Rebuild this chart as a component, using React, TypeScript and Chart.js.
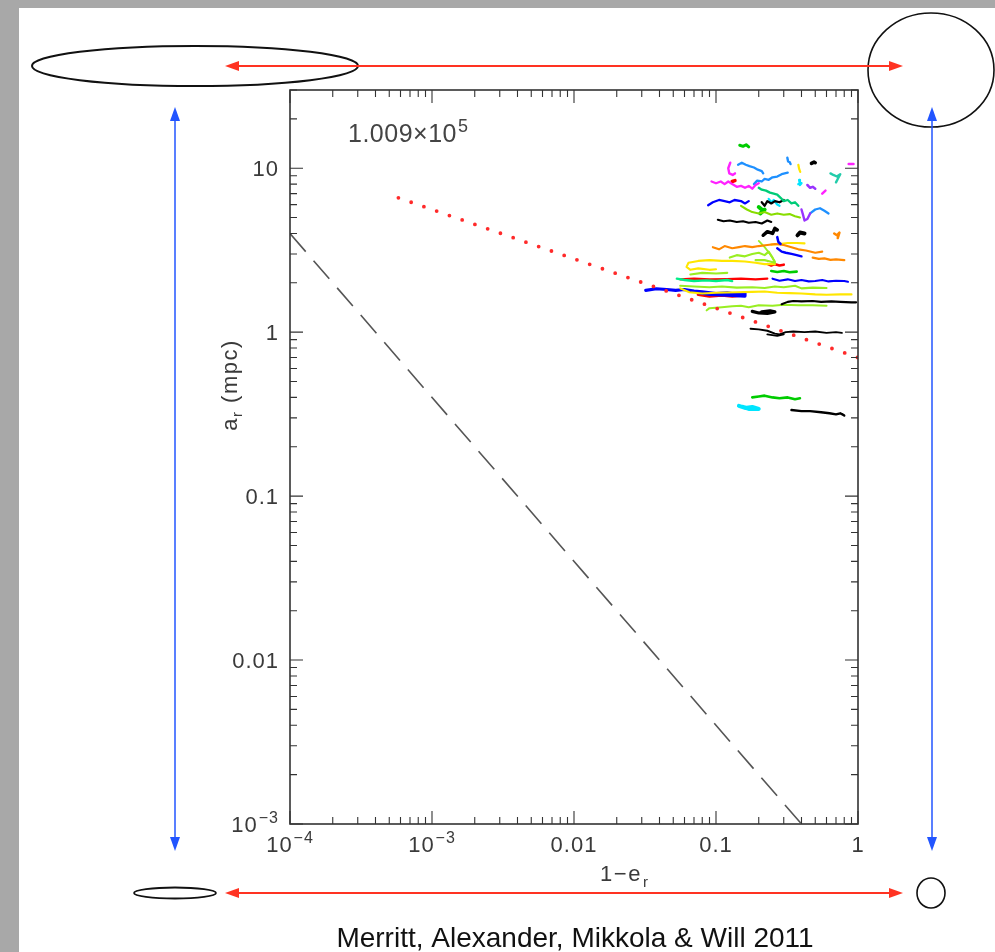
import { useEffect, useRef } from "react";
import { Chart, registerables } from "chart.js";

Chart.register(...registerables);

type P = [number, number];

// ---------- axes ----------
const X_MIN = 1e-4;
const X_MAX = 1;
const Y_MIN = 1e-3;
const Y_MAX = 30;
const xMajorTicks = [1e-4, 1e-3, 0.01, 0.1, 1];
const xTickLabels: [string, string][] = [["10", "−4"], ["10", "−3"], ["0.01", ""], ["0.1", ""], ["1", ""]];
const yMajorTicks = [1e-3, 0.01, 0.1, 1, 10];
const yTickLabels: [string, string][] = [["10", "−3"], ["0.01", ""], ["0.1", ""], ["1", ""], ["10", ""]];
const xTitle: [string, string] = ["1−e", "r"];
const yTitle: [string, string, string] = ["a", "r", " (mpc)"];
const timeLabel: [string, string] = ["1.009×10", "5"];
const caption = "Merritt, Alexander, Mikkola & Will 2011";

// ---------- reference lines ----------
const dashedLine: P[] = [[1e-4, 4.0], [0.4, 1e-3]];
const dottedLine: P[] = [[5.8e-4, 6.6], [1, 0.7]];

// ---------- orbit tracks (1-e, a) ----------
const greenTop: P[] = [[0.147, 13.8], [0.155, 13.6], [0.163, 13.9], [0.17, 13.5]];
const magentaHook: P[] = [[0.126, 10.8], [0.122, 10.0], [0.124, 9.3], [0.131, 9.1], [0.136, 9.3]];
const azureHigh: P[] = [[0.143, 10.5], [0.152, 10.8], [0.162, 10.5], [0.172, 10.3], [0.185, 10.1], [0.197, 9.8], [0.21, 9.6], [0.215, 9.3]];
const azureSmall: P[] = [[0.318, 11.6], [0.322, 11.0], [0.33, 10.9], [0.335, 10.6]];
const yellowTick: P[] = [[0.38, 10.5], [0.385, 9.9], [0.392, 9.5]];
const blackDot: P[] = [[0.47, 10.7], [0.49, 10.9], [0.5, 10.8]];
const magentaEdge: P[] = [[0.86, 10.6], [0.93, 10.6]];
const tealEdge: P[] = [[0.64, 9.3], [0.67, 9.1], [0.71, 8.9], [0.75, 9.2], [0.72, 8.6], [0.7, 8.2]];
const magentaLong: P[] = [[0.093, 8.3], [0.1, 8.1], [0.108, 8.3], [0.115, 8.0], [0.122, 8.3], [0.13, 8.0], [0.14, 7.7], [0.15, 7.8], [0.16, 7.6], [0.17, 7.8], [0.18, 7.5], [0.19, 7.9], [0.2, 8.1]];
const redDot: P[] = [[0.13, 8.3], [0.136, 8.4]];
const azureMid: P[] = [[0.185, 8.0], [0.195, 8.4], [0.21, 8.3], [0.22, 8.6], [0.235, 8.5], [0.25, 8.8], [0.27, 8.9], [0.29, 9.2], [0.32, 9.4]];
const cyanSmall: P[] = [[0.385, 8.5], [0.39, 7.9], [0.4, 8.1], [0.38, 8.0]];
const purpleSmall: P[] = [[0.44, 7.9], [0.46, 7.6], [0.48, 7.7], [0.5, 7.5]];
const magentaSmall: P[] = [[0.56, 7.0], [0.59, 7.3]];
const seaGreen: P[] = [[0.2, 7.6], [0.21, 7.4], [0.225, 7.3], [0.24, 7.1], [0.255, 7.0], [0.27, 6.9], [0.285, 6.6], [0.3, 6.3], [0.32, 6.4], [0.34, 6.1], [0.36, 6.2], [0.38, 5.9]];
const blueUpper: P[] = [[0.088, 5.95], [0.095, 6.2], [0.105, 6.4], [0.115, 6.3], [0.125, 6.2], [0.135, 6.4], [0.15, 6.3], [0.16, 6.1], [0.17, 6.3]];
const blackUpper: P[] = [[0.21, 6.2], [0.22, 5.9], [0.23, 6.3], [0.245, 6.1], [0.26, 6.3], [0.28, 6.2], [0.3, 6.4]];
const cyanUpper: P[] = [[0.235, 6.5], [0.245, 6.2], [0.255, 6.4], [0.27, 6.0], [0.28, 5.9]];
const limeUpper: P[] = [[0.15, 5.9], [0.165, 5.6], [0.18, 5.4], [0.2, 5.3], [0.22, 5.4], [0.245, 5.2], [0.27, 5.3], [0.3, 5.2], [0.33, 5.25], [0.36, 5.1], [0.39, 5.0]];
const greenBlob: P[] = [[0.2, 5.8], [0.215, 5.5], [0.205, 5.3], [0.22, 5.6]];
const purpleCurl: P[] = [[0.4, 5.6], [0.41, 5.2], [0.42, 4.8], [0.44, 4.9], [0.46, 5.3]];
const azureCurl: P[] = [[0.46, 5.3], [0.5, 5.6], [0.54, 5.7], [0.58, 5.5], [0.62, 5.3]];
const blackMid: P[] = [[0.103, 4.85], [0.113, 4.75], [0.125, 4.8], [0.14, 4.7], [0.155, 4.75], [0.17, 4.65], [0.19, 4.7], [0.21, 4.6], [0.23, 4.8], [0.245, 4.7]];
const blackBlobA: P[] = [[0.215, 3.9], [0.23, 4.1], [0.25, 4.0], [0.26, 4.3], [0.27, 4.2]];
const blackBlobB: P[] = [[0.375, 3.9], [0.39, 4.05], [0.42, 4.0]];
const orangeSmall: P[] = [[0.68, 4.0], [0.71, 3.9], [0.74, 4.05], [0.72, 3.75]];
const blueSmall: P[] = [[0.27, 3.8], [0.275, 3.55], [0.285, 3.45]];
const orangeLong: P[] = [[0.095, 3.3], [0.105, 3.2], [0.115, 3.35], [0.13, 3.25], [0.145, 3.3], [0.16, 3.35], [0.18, 3.3], [0.2, 3.35], [0.23, 3.4], [0.26, 3.45], [0.3, 3.4], [0.34, 3.3], [0.38, 3.2], [0.43, 3.15], [0.5, 3.05], [0.56, 3.1]];
const yellowShort: P[] = [[0.245, 3.42], [0.28, 3.45], [0.32, 3.5], [0.37, 3.5], [0.42, 3.48]];
const blueMid: P[] = [[0.27, 3.25], [0.29, 3.1], [0.31, 3.05], [0.34, 3.0], [0.37, 2.95], [0.4, 2.9]];
const limeLoop: P[] = [[0.125, 2.85], [0.14, 2.95], [0.16, 2.9], [0.18, 3.0], [0.2, 3.05], [0.22, 2.95], [0.235, 3.1], [0.25, 2.85], [0.26, 2.65], [0.24, 2.7], [0.22, 2.75], [0.19, 2.75]];
const limeSlant: P[] = [[0.2, 3.6], [0.22, 3.3], [0.24, 3.0], [0.26, 2.7]];
const orangeRight: P[] = [[0.48, 2.85], [0.53, 2.8], [0.58, 2.82], [0.64, 2.76], [0.7, 2.78], [0.8, 2.75]];
const yellowLoop: P[] = [[0.26, 2.6], [0.22, 2.6], [0.19, 2.65], [0.16, 2.7], [0.13, 2.72], [0.11, 2.72], [0.09, 2.75], [0.075, 2.72], [0.064, 2.65], [0.062, 2.5], [0.066, 2.4], [0.075, 2.45], [0.09, 2.4], [0.1, 2.42]];
const redMid: P[] = [[0.232, 2.6], [0.245, 2.55], [0.26, 2.6], [0.28, 2.55], [0.3, 2.58]];
const greenMid: P[] = [[0.245, 2.36], [0.27, 2.33], [0.3, 2.36], [0.33, 2.32], [0.37, 2.34]];
const limeBit: P[] = [[0.066, 2.25], [0.08, 2.3], [0.1, 2.28], [0.12, 2.3]];
const redLong: P[] = [[0.056, 2.1], [0.07, 2.12], [0.09, 2.1], [0.12, 2.11], [0.15, 2.12], [0.19, 2.1], [0.23, 2.12]];
const springGreen: P[] = [[0.053, 2.12], [0.06, 2.08], [0.07, 2.05], [0.085, 2.07], [0.1, 2.05], [0.12, 2.08], [0.13, 2.05]];
const blueLong: P[] = [[0.25, 2.12], [0.28, 2.06], [0.32, 2.1], [0.36, 2.05], [0.4, 2.08], [0.45, 2.04], [0.5, 2.05], [0.56, 2.08], [0.62, 2.04], [0.7, 2.06], [0.8, 2.05], [0.85, 2.03]];
const yellowLong: P[] = [[0.056, 1.85], [0.065, 1.75], [0.08, 1.72], [0.1, 1.74], [0.14, 1.75], [0.18, 1.76], [0.22, 1.77], [0.27, 1.74], [0.33, 1.73], [0.4, 1.72], [0.5, 1.7], [0.6, 1.69], [0.75, 1.7], [0.9, 1.7]];
const limeLong: P[] = [[0.056, 1.92], [0.07, 1.9], [0.09, 1.88], [0.11, 1.9], [0.14, 1.87], [0.18, 1.88], [0.22, 1.86], [0.26, 1.9], [0.3, 1.88], [0.36, 1.92], [0.4, 1.85], [0.48, 1.87], [0.6, 1.86]];
const blueDense: P[] = [[0.032, 1.8], [0.038, 1.84], [0.045, 1.82], [0.052, 1.8], [0.06, 1.82], [0.07, 1.78], [0.08, 1.76], [0.1, 1.72], [0.12, 1.74], [0.14, 1.7], [0.16, 1.73], [0.16, 1.66], [0.12, 1.68], [0.09, 1.7], [0.075, 1.74]];
const redDense: P[] = [[0.075, 1.7], [0.09, 1.66], [0.11, 1.68], [0.13, 1.66], [0.155, 1.68]];
const blackLow: P[] = [[0.29, 1.48], [0.32, 1.53], [0.35, 1.55], [0.4, 1.54], [0.48, 1.55], [0.55, 1.53], [0.65, 1.54], [0.75, 1.53], [0.9, 1.52], [0.97, 1.52]];
const limeLow: P[] = [[0.086, 1.36], [0.09, 1.4], [0.11, 1.42], [0.13, 1.44], [0.15, 1.45], [0.17, 1.42], [0.2, 1.46], [0.25, 1.45], [0.3, 1.47], [0.38, 1.46], [0.48, 1.46], [0.6, 1.45]];
const blackBlobC: P[] = [[0.18, 1.34], [0.2, 1.31], [0.23, 1.3], [0.26, 1.33], [0.24, 1.35], [0.21, 1.33]];
const blackUnity: P[] = [[0.175, 1.05], [0.2, 1.04], [0.23, 1.02], [0.26, 0.98], [0.28, 0.97], [0.31, 1.0], [0.35, 1.01], [0.42, 1.0], [0.5, 1.01], [0.6, 0.99], [0.7, 1.0], [0.77, 0.99]];
const blackUnityB: P[] = [[0.23, 0.97], [0.27, 0.95], [0.3, 0.97]];
const greenInner: P[] = [[0.18, 0.4], [0.2, 0.405], [0.22, 0.41], [0.25, 0.4], [0.28, 0.395], [0.32, 0.4], [0.36, 0.39], [0.39, 0.395]];
const cyanInner: P[] = [[0.145, 0.355], [0.16, 0.345], [0.18, 0.35], [0.2, 0.34], [0.17, 0.34], [0.155, 0.35]];
const blackInner: P[] = [[0.34, 0.335], [0.4, 0.33], [0.46, 0.33], [0.55, 0.325], [0.63, 0.32], [0.7, 0.315], [0.75, 0.32], [0.8, 0.31], [0.78, 0.315]];

// style per track: [data, colour, line width]
const tracks: [P[], string, number][] = [
  [greenTop, "#00cc00", 3],
  [magentaHook, "#ff22ff", 2.4],
  [azureHigh, "#1e90ff", 2.3],
  [azureSmall, "#1e90ff", 2.4],
  [yellowTick, "#ffe600", 2.2],
  [blackDot, "#000000", 3.5],
  [magentaEdge, "#ff22ff", 2.5],
  [tealEdge, "#22ccaa", 2.4],
  [magentaLong, "#ff22ff", 2.3],
  [redDot, "#ff0000", 3.5],
  [azureMid, "#1e90ff", 2.3],
  [cyanSmall, "#00e5ff", 2.3],
  [purpleSmall, "#9933ff", 2.5],
  [magentaSmall, "#ff22ff", 2.5],
  [seaGreen, "#00cc77", 2.3],
  [blueUpper, "#0000ff", 2.3],
  [blackUpper, "#000000", 2.3],
  [cyanUpper, "#00e5ff", 2.3],
  [limeUpper, "#88dd00", 2.1],
  [greenBlob, "#00cc00", 4],
  [purpleCurl, "#9933ff", 2.4],
  [azureCurl, "#1e90ff", 2.3],
  [blackMid, "#000000", 2.1],
  [blackBlobA, "#000000", 3.5],
  [blackBlobB, "#000000", 4],
  [orangeSmall, "#ff8800", 2.5],
  [blueSmall, "#0000ff", 2.5],
  [orangeLong, "#ff8800", 2.1],
  [yellowShort, "#ffe600", 2.1],
  [blueMid, "#0000ff", 2.4],
  [limeLoop, "#99ee22", 2.1],
  [limeSlant, "#99ee22", 1.8],
  [orangeRight, "#ff8800", 2.3],
  [yellowLoop, "#ffe600", 2.1],
  [redMid, "#ff0000", 2.6],
  [greenMid, "#00cc00", 2.6],
  [limeBit, "#99ee22", 2.1],
  [springGreen, "#00ee88", 2.4],
  [redLong, "#ff0000", 2.1],
  [blueLong, "#0000ff", 2.1],
  [limeLong, "#99ee22", 2.1],
  [yellowLong, "#ffe600", 2.1],
  [blueDense, "#0000ff", 3.2],
  [redDense, "#ff0000", 3.2],
  [blackLow, "#000000", 2.1],
  [limeLow, "#99ee22", 2.1],
  [blackBlobC, "#000000", 3.2],
  [blackUnity, "#000000", 1.9],
  [blackUnityB, "#000000", 1.9],
  [greenInner, "#00cc00", 2.6],
  [cyanInner, "#00e5ff", 4],
  [blackInner, "#000000", 2.4],
];

const FONT = "'Liberation Sans', Arial, Helvetica, sans-serif";
const TEXT = "#3a3a3a";

function textWithSup(ctx: any, base: string, sup: string, x: number, y: number, size: number, align: "left" | "center" | "right", spacing: number) {
  ctx.letterSpacing = `${spacing}px`;
  ctx.font = `${size}px ${FONT}`;
  const wb = ctx.measureText(base).width;
  const supSize = Math.round(size * 0.72);
  ctx.font = `${supSize}px ${FONT}`;
  const ws = sup ? ctx.measureText(sup).width + 1 : 0;
  const total = wb + ws;
  let x0 = x;
  if (align === "center") x0 = x - total / 2;
  if (align === "right") x0 = x - total;
  ctx.textAlign = "left";
  ctx.font = `${size}px ${FONT}`;
  ctx.fillText(base, x0, y);
  if (sup) {
    ctx.font = `${supSize}px ${FONT}`;
    ctx.fillText(sup, x0 + wb + 1, y - size * 0.42);
  }
  ctx.letterSpacing = "0px";
}

function arrow(ctx: CanvasRenderingContext2D, x1: number, y1: number, x2: number, y2: number, color: string, w: number) {
  const ang = Math.atan2(y2 - y1, x2 - x1);
  const L = 14, H = 5;
  ctx.strokeStyle = color;
  ctx.fillStyle = color;
  ctx.lineWidth = w;
  ctx.beginPath();
  ctx.moveTo(x1 + Math.cos(ang) * 6, y1 + Math.sin(ang) * 6);
  ctx.lineTo(x2 - Math.cos(ang) * 6, y2 - Math.sin(ang) * 6);
  ctx.stroke();
  const head = (tx: number, ty: number, a: number) => {
    ctx.beginPath();
    ctx.moveTo(tx, ty);
    ctx.lineTo(tx - Math.cos(a) * L + Math.sin(a) * H, ty - Math.sin(a) * L - Math.cos(a) * H);
    ctx.lineTo(tx - Math.cos(a) * L - Math.sin(a) * H, ty - Math.sin(a) * L + Math.cos(a) * H);
    ctx.closePath();
    ctx.fill();
  };
  head(x2, y2, ang);
  head(x1, y1, ang + Math.PI);
}

function ellipse(ctx: CanvasRenderingContext2D, cx: number, cy: number, rx: number, ry: number, w: number) {
  ctx.strokeStyle = "#111";
  ctx.lineWidth = w;
  ctx.beginPath();
  ctx.ellipse(cx, cy, rx, ry, 0, 0, Math.PI * 2);
  ctx.stroke();
}

const decor = {
  id: "decor",
  beforeDraw(chart: any) {
    const { ctx, width, height } = chart;
    ctx.save();
    ctx.fillStyle = "#ffffff";
    ctx.fillRect(0, 0, width, height);
    ctx.fillStyle = "#a8a8a8";
    ctx.fillRect(0, 0, width, 8);
    ctx.fillRect(0, 0, 19, height);
    ctx.restore();
  },
  afterDraw(chart: any) {
    const { ctx, chartArea: a } = chart;
    const xs = chart.scales.x;
    const ys = chart.scales.y;
    ctx.save();
    // frame
    ctx.strokeStyle = "#333";
    ctx.lineWidth = 1.6;
    ctx.strokeRect(a.left, a.top, a.right - a.left, a.bottom - a.top);
    // ticks
    ctx.lineWidth = 1.1;
    ctx.beginPath();
    for (let d = -4; d <= 0; d++) {
      for (let m = 1; m <= 9; m++) {
        const v = m * Math.pow(10, d);
        if (v < X_MIN * 0.999 || v > X_MAX * 1.001) continue;
        const px = xs.getPixelForValue(v);
        const len = m === 1 ? 13 : 7;
        ctx.moveTo(px, a.bottom);
        ctx.lineTo(px, a.bottom - len);
        ctx.moveTo(px, a.top);
        ctx.lineTo(px, a.top + len);
      }
    }
    for (let d = -3; d <= 1; d++) {
      for (let m = 1; m <= 9; m++) {
        const v = m * Math.pow(10, d);
        if (v < Y_MIN * 0.999 || v > Y_MAX * 1.001) continue;
        const py = ys.getPixelForValue(v);
        const len = m === 1 ? 13 : 7;
        ctx.moveTo(a.left, py);
        ctx.lineTo(a.left + len, py);
        ctx.moveTo(a.right, py);
        ctx.lineTo(a.right - len, py);
      }
    }
    ctx.stroke();

    // tick labels
    ctx.fillStyle = TEXT;
    ctx.textBaseline = "alphabetic";
    xMajorTicks.forEach((v, i) => {
      const px = xs.getPixelForValue(v);
      textWithSup(ctx, xTickLabels[i][0], xTickLabels[i][1], px, a.bottom + 28, 22, "center", 1);
    });
    yMajorTicks.forEach((v, i) => {
      const py = ys.getPixelForValue(v);
      textWithSup(ctx, yTickLabels[i][0], yTickLabels[i][1], a.left - 11, py + 8, 22, "right", 1);
    });

    // x title
    ctx.letterSpacing = "1.5px";
    ctx.font = `22px ${FONT}`;
    const xw = ctx.measureText(xTitle[0]).width;
    const xc = 626;
    ctx.textAlign = "left";
    ctx.fillText(xTitle[0], xc - xw / 2 - 5, a.bottom + 57);
    ctx.font = `15px ${FONT}`;
    ctx.fillText(xTitle[1], xc + xw / 2 - 4, a.bottom + 63);

    // y title (rotated)
    ctx.save();
    ctx.translate(237, 385);
    ctx.rotate(-Math.PI / 2);
    ctx.font = `22px ${FONT}`;
    const wa = ctx.measureText(yTitle[0]).width;
    ctx.font = `15px ${FONT}`;
    const wr = ctx.measureText(yTitle[1]).width;
    ctx.font = `22px ${FONT}`;
    const wp = ctx.measureText(yTitle[2]).width;
    let tx = -(wa + wr + wp) / 2;
    ctx.fillText(yTitle[0], tx, 0);
    tx += wa;
    ctx.font = `15px ${FONT}`;
    ctx.fillText(yTitle[1], tx, 5);
    tx += wr;
    ctx.font = `22px ${FONT}`;
    ctx.fillText(yTitle[2], tx, 0);
    ctx.restore();
    ctx.letterSpacing = "0px";

    // time label
    ctx.fillStyle = "#444";
    textWithSup(ctx, timeLabel[0], timeLabel[1], a.left + 58, a.top + 52, 25, "left", 0.5);

    // orbit sketches
    ellipse(ctx, 195, 66, 163, 20, 2);
    ellipse(ctx, 931, 70, 63, 57, 1.6);
    ellipse(ctx, 175, 893, 41, 5.5, 1.8);
    ellipse(ctx, 931, 893, 14, 15, 1.6);
    arrow(ctx, 225, 66, 903, 66, "#ff3322", 2);
    arrow(ctx, 225, 893, 903, 893, "#ff3322", 2);
    arrow(ctx, 175, 107, 175, 851, "#2255ff", 1.5);
    arrow(ctx, 932, 107, 932, 851, "#2255ff", 1.5);

    // caption
    ctx.fillStyle = "#111";
    ctx.font = `28px ${FONT}`;
    ctx.textAlign = "center";
    ctx.fillText(caption, 575, 947);
    ctx.restore();
  },
};

export default function App() {
  const ref = useRef<HTMLCanvasElement>(null);
  useEffect(() => {
    if (!ref.current) return;
    const datasets: any[] = [
      {
        data: dashedLine.map(([x, y]) => ({ x, y })),
        borderColor: "#555",
        borderWidth: 1.6,
        borderDash: [24, 12],
        pointRadius: 0,
        fill: false,
      },
      {
        data: dottedLine.map(([x, y]) => ({ x, y })),
        borderColor: "#ff2a2a",
        borderWidth: 3.8,
        borderDash: [0, 13.5],
        borderCapStyle: "round",
        pointRadius: 0,
        fill: false,
      },
      ...tracks.map(([d, c, w]) => ({
        data: d.map(([x, y]) => ({ x, y })),
        borderColor: c,
        borderWidth: w,
        borderJoinStyle: "round",
        borderCapStyle: "round",
        pointRadius: 0,
        fill: false,
      })),
    ];
    const chart = new Chart(ref.current, {
      type: "line",
      data: { datasets },
      options: {
        animation: false,
        responsive: false,
        devicePixelRatio: 1,
        layout: { padding: { left: 290, top: 90, right: 137, bottom: 128 } },
        plugins: { legend: { display: false }, tooltip: { enabled: false }, title: { display: false } },
        scales: {
          x: { type: "logarithmic", min: X_MIN, max: X_MAX, display: false },
          y: { type: "logarithmic", min: Y_MIN, max: Y_MAX, display: false },
        },
      },
      plugins: [decor],
    });
    return () => chart.destroy();
  }, []);
  return (
    <div style={{ position: "fixed", left: 0, top: 0, width: 995, height: 952 }}>
      <canvas ref={ref} width={995} height={952} style={{ width: 995, height: 952, display: "block" }} />
    </div>
  );
}
